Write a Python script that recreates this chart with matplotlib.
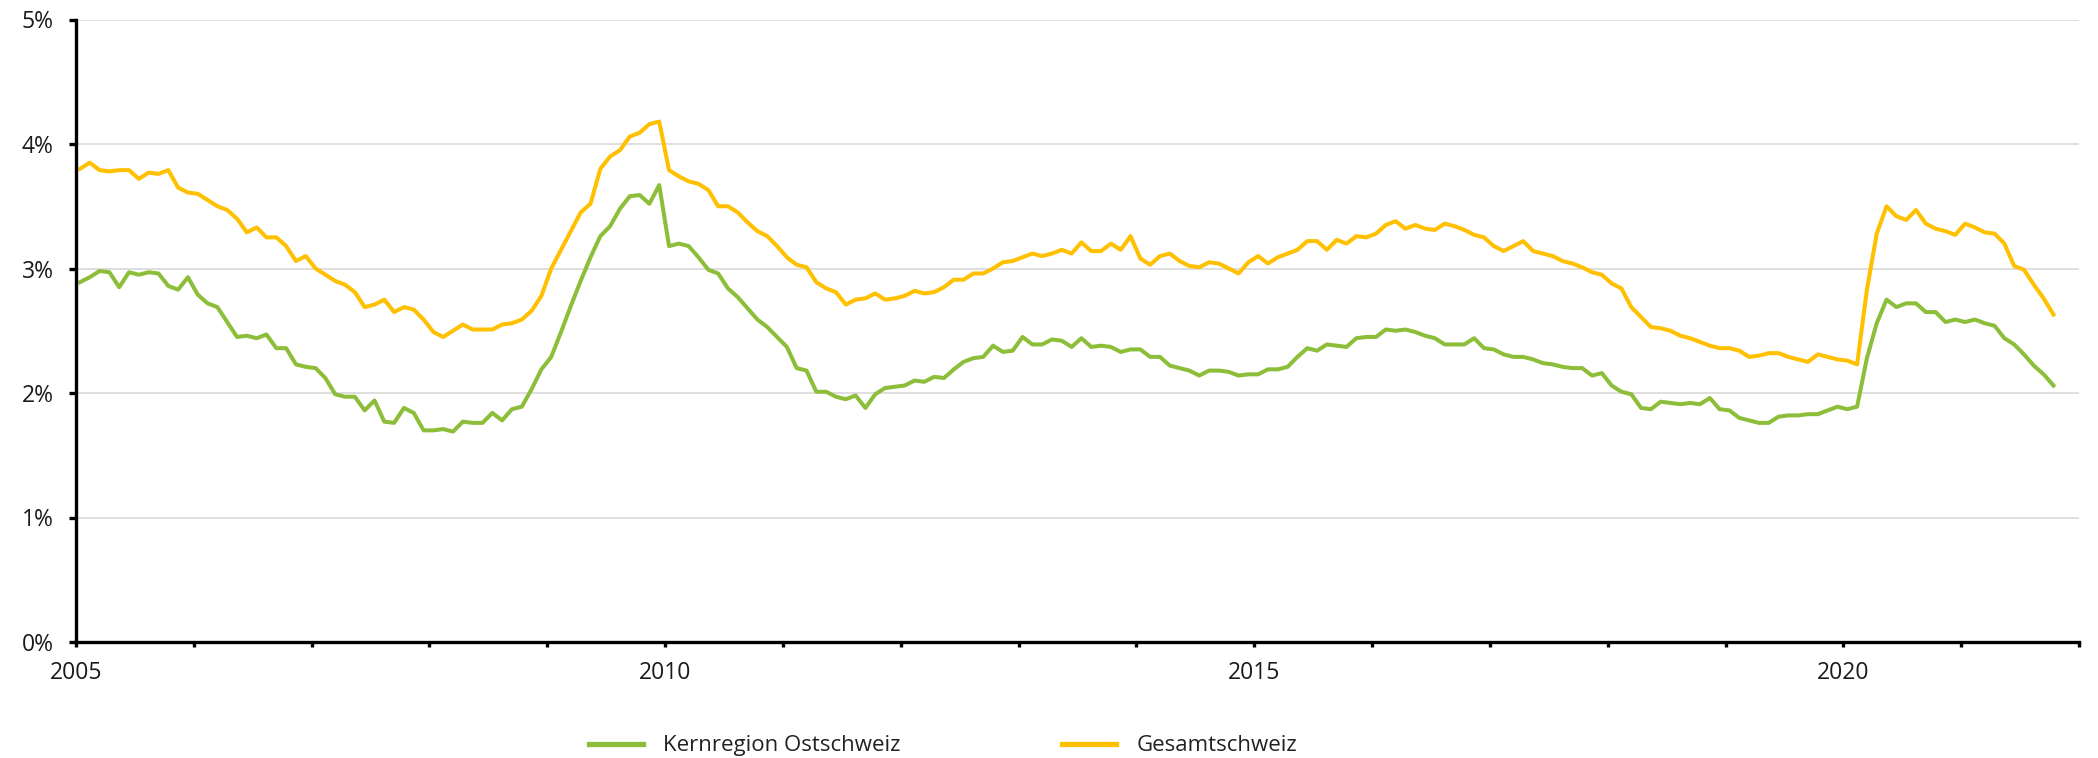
#!/usr/bin/env python
# Kernregion Ostschweiz vs Gesamtschweiz, monthly 2005-2021
import numpy as np
import matplotlib
matplotlib.use('Agg')
import matplotlib.pyplot as plt
from matplotlib.lines import Line2D

# data (percent), one row per year, Jan..Dec
ostschweiz = [
    2.89, 2.93, 2.98, 2.97, 2.85, 2.97, 2.95, 2.97, 2.96, 2.86, 2.83, 2.93,  # 2005
    2.79, 2.72, 2.69, 2.57, 2.45, 2.46, 2.44, 2.47, 2.36, 2.36, 2.23, 2.21,  # 2006
    2.20, 2.12, 1.99, 1.97, 1.97, 1.86, 1.94, 1.77, 1.76, 1.88, 1.84, 1.70,  # 2007
    1.70, 1.71, 1.69, 1.77, 1.76, 1.76, 1.84, 1.78, 1.87, 1.89, 2.03, 2.19,  # 2008
    2.29, 2.49, 2.70, 2.90, 3.09, 3.26, 3.34, 3.48, 3.58, 3.59, 3.52, 3.67,  # 2009
    3.18, 3.20, 3.18, 3.09, 2.99, 2.96, 2.84, 2.77, 2.68, 2.59, 2.53, 2.45,  # 2010
    2.37, 2.20, 2.18, 2.01, 2.01, 1.97, 1.95, 1.98, 1.88, 1.99, 2.04, 2.05,  # 2011
    2.06, 2.10, 2.09, 2.13, 2.12, 2.19, 2.25, 2.28, 2.29, 2.38, 2.33, 2.34,  # 2012
    2.45, 2.39, 2.39, 2.43, 2.42, 2.37, 2.44, 2.37, 2.38, 2.37, 2.33, 2.35,  # 2013
    2.35, 2.29, 2.29, 2.22, 2.20, 2.18, 2.14, 2.18, 2.18, 2.17, 2.14, 2.15,  # 2014
    2.15, 2.19, 2.19, 2.21, 2.29, 2.36, 2.34, 2.39, 2.38, 2.37, 2.44, 2.45,  # 2015
    2.45, 2.51, 2.50, 2.51, 2.49, 2.46, 2.44, 2.39, 2.39, 2.39, 2.44, 2.36,  # 2016
    2.35, 2.31, 2.29, 2.29, 2.27, 2.24, 2.23, 2.21, 2.20, 2.20, 2.14, 2.16,  # 2017
    2.06, 2.01, 1.99, 1.88, 1.87, 1.93, 1.92, 1.91, 1.92, 1.91, 1.96, 1.87,  # 2018
    1.86, 1.80, 1.78, 1.76, 1.76, 1.81, 1.82, 1.82, 1.83, 1.83, 1.86, 1.89,  # 2019
    1.87, 1.89, 2.28, 2.56, 2.75, 2.69, 2.72, 2.72, 2.65, 2.65, 2.57, 2.59,  # 2020
    2.57, 2.59, 2.56, 2.54, 2.44, 2.39, 2.31, 2.22, 2.15, 2.06,              # 2021
]
gesamtschweiz = [
    3.80, 3.85, 3.79, 3.78, 3.79, 3.79, 3.72, 3.77, 3.76, 3.79, 3.65, 3.61,  # 2005
    3.60, 3.55, 3.50, 3.47, 3.40, 3.29, 3.33, 3.25, 3.25, 3.18, 3.06, 3.10,  # 2006
    3.00, 2.95, 2.90, 2.87, 2.81, 2.69, 2.71, 2.75, 2.65, 2.69, 2.67, 2.59,  # 2007
    2.49, 2.45, 2.50, 2.55, 2.51, 2.51, 2.51, 2.55, 2.56, 2.59, 2.66, 2.78,  # 2008
    3.00, 3.15, 3.30, 3.45, 3.52, 3.80, 3.90, 3.95, 4.06, 4.09, 4.16, 4.18,  # 2009
    3.79, 3.74, 3.70, 3.68, 3.63, 3.50, 3.50, 3.45, 3.37, 3.30, 3.26, 3.18,  # 2010
    3.09, 3.03, 3.01, 2.89, 2.84, 2.81, 2.71, 2.75, 2.76, 2.80, 2.75, 2.76,  # 2011
    2.78, 2.82, 2.80, 2.81, 2.85, 2.91, 2.91, 2.96, 2.96, 3.00, 3.05, 3.06,  # 2012
    3.09, 3.12, 3.10, 3.12, 3.15, 3.12, 3.21, 3.14, 3.14, 3.20, 3.15, 3.26,  # 2013
    3.08, 3.03, 3.10, 3.12, 3.06, 3.02, 3.01, 3.05, 3.04, 3.00, 2.96, 3.05,  # 2014
    3.10, 3.04, 3.09, 3.12, 3.15, 3.22, 3.22, 3.15, 3.23, 3.20, 3.26, 3.25,  # 2015
    3.28, 3.35, 3.38, 3.32, 3.35, 3.32, 3.31, 3.36, 3.34, 3.31, 3.27, 3.25,  # 2016
    3.18, 3.14, 3.18, 3.22, 3.14, 3.12, 3.10, 3.06, 3.04, 3.01, 2.97, 2.95,  # 2017
    2.88, 2.84, 2.69, 2.61, 2.53, 2.52, 2.50, 2.46, 2.44, 2.41, 2.38, 2.36,  # 2018
    2.36, 2.34, 2.29, 2.30, 2.32, 2.32, 2.29, 2.27, 2.25, 2.31, 2.29, 2.27,  # 2019
    2.26, 2.23, 2.83, 3.28, 3.50, 3.42, 3.39, 3.47, 3.36, 3.32, 3.30, 3.27,  # 2020
    3.36, 3.33, 3.29, 3.28, 3.20, 3.02, 2.99, 2.87, 2.76, 2.63,              # 2021
]
series_labels = ['Kernregion Ostschweiz', 'Gesamtschweiz']
start_year = 2005
end_year = 2022
labelled_years = [2005, 2010, 2015, 2020]
y_ticks = [0, 1, 2, 3, 4, 5]

# colours
green = '#8DBE3A'
yellow = '#FFC000'
grid_col = '#D9D9D9'
text_col = '#1A1A1A'

plt.rcParams['font.family'] = ['Open Sans', 'DejaVu Sans']

months = np.arange(len(ostschweiz))
x = start_year + (months + 0.4) / 12.0

fig = plt.figure(figsize=(20.98, 7.58), dpi=100)
ax = fig.add_axes([76 / 2098, 116 / 758, (2079 - 76) / 2098, (738.5 - 116) / 758])

ax.plot(x, ostschweiz, color=green, lw=2.9, solid_joinstyle='round', zorder=3)
ax.plot(x, gesamtschweiz, color=yellow, lw=2.9, solid_joinstyle='round', zorder=3)

ax.set_xlim(start_year, end_year)
ax.set_ylim(0, 5)

# grid
for v in y_ticks[1:]:
    ax.axhline(v, color=grid_col, lw=1.2, zorder=1)

# spines
for s in ['top', 'right']:
    ax.spines[s].set_visible(False)
for s in ['left', 'bottom']:
    ax.spines[s].set_linewidth(2.4)
    ax.spines[s].set_color('black')
    ax.spines[s].set_zorder(4)

# ticks
ax.set_yticks(y_ticks)
ax.set_yticklabels(['%d%%' % v for v in y_ticks])
years = list(range(start_year, end_year + 1))
ax.set_xticks(years)
ax.set_xticklabels([str(y) if y in labelled_years else '' for y in years])
ax.tick_params(axis='y', direction='out', length=5, width=2.4, pad=11,
               labelsize=16.5, labelcolor=text_col)
ax.tick_params(axis='x', direction='out', length=3.5, width=2.4, pad=10,
               labelsize=16.5, labelcolor=text_col)

# legend below the plot
legend_size = 16
fpx = legend_size * 100 / 72.0
handles = [Line2D([], [], color=green, lw=3.8), Line2D([], [], color=yellow, lw=3.8)]
leg = fig.legend(handles, series_labels, loc='center', bbox_to_anchor=(0.4495, 0.016),
                 ncol=2, frameon=False, handlelength=54 / fpx, handletextpad=20 / fpx,
                 columnspacing=162 / fpx, fontsize=legend_size, borderpad=0)
for t in leg.get_texts():
    t.set_color('#222222')

plt.savefig('out.png', dpi=100)
plt.close()
